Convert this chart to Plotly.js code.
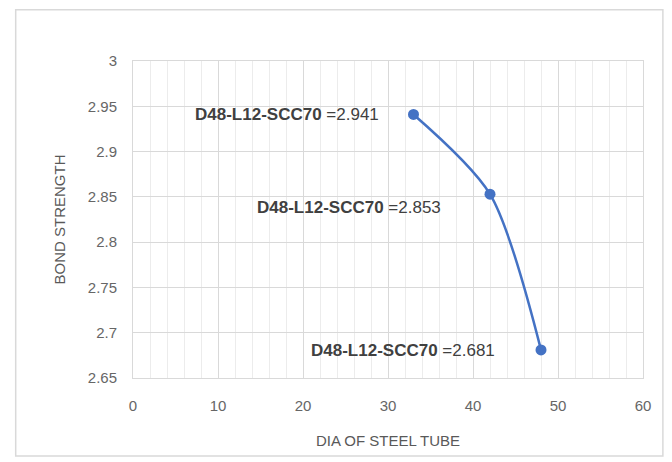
<!DOCTYPE html>
<html>
<head>
<script src="https://cdn.plot.ly/plotly-3.0.1.min.js"></script>
<style>html,body{margin:0;padding:0;background:#fff}#chart{width:672px;height:462px}</style>
</head>
<body>
<div id="chart"></div>
<script>
const diameters = [33, 42, 48];
const bondStrength = [2.941, 2.853, 2.681];
const pointLabels = ["D48-L12-SCC70", "D48-L12-SCC70", "D48-L12-SCC70"];
const xTicks = [0, 10, 20, 30, 40, 50, 60];
const yTicks = [2.65, 2.7, 2.75, 2.8, 2.85, 2.9, 2.95, 3];
const yTickText = ["2.65", "2.7", "2.75", "2.8", "2.85", "2.9", "2.95", "3"];

const FONT = "Liberation Sans, Arial, sans-serif";
const labelShifts = [[-33, 0], [-47, -13], [-44, -1]];

const trace = {
  x: diameters, y: bondStrength, type: 'scatter', mode: 'lines+markers',
  line: {color: '#4472C4', width: 2.5, shape: 'spline', smoothing: 0.8},
  marker: {color: '#4472C4', size: 11},
  hoverinfo: 'skip'
};

const annotations = diameters.map((xv, i) => ({
  x: xv, y: bondStrength[i], xref: 'x', yref: 'y',
  text: '<b>' + pointLabels[i] + '</b> =' + bondStrength[i].toFixed(3),
  showarrow: false, xanchor: 'right', yanchor: 'middle',
  xshift: labelShifts[i][0], yshift: labelShifts[i][1],
  font: {family: FONT, size: 17, color: '#404040'}
}));

const layout = {
  width: 672, height: 462,
  margin: {l: 133, r: 29, t: 61, b: 84},
  paper_bgcolor: '#ffffff', plot_bgcolor: '#ffffff',
  showlegend: false,
  font: {family: FONT, color: '#595959', size: 14},
  xaxis: {
    range: [0, 60], tickvals: xTicks, ticktext: xTicks.map(String),
    showgrid: true, gridcolor: '#d9d9d9', gridwidth: 1,
    minor: {dtick: 2, showgrid: true, gridcolor: '#ececec', gridwidth: 1},
    showline: true, mirror: true, linecolor: '#d9d9d9', linewidth: 1,
    zeroline: false, ticks: 'outside', ticklen: 14, tickcolor: 'rgba(0,0,0,0)',
    tickfont: {family: FONT, size: 15, color: '#666666'},
    title: {text: 'DIA OF STEEL TUBE', font: {family: FONT, size: 15, color: '#595959'}, standoff: 22}
  },
  yaxis: {
    range: [2.65, 3], tickvals: yTicks, ticktext: yTickText,
    showgrid: true, gridcolor: '#d9d9d9', gridwidth: 1,
    showline: true, mirror: true, linecolor: '#d9d9d9', linewidth: 1,
    zeroline: false, ticks: 'outside', ticklen: 12, tickcolor: 'rgba(0,0,0,0)',
    tickfont: {family: FONT, size: 15, color: '#666666'},
    title: {text: 'BOND STRENGTH', font: {family: FONT, size: 15, color: '#595959'}, standoff: 18}
  },
  annotations: annotations,
  shapes: [{
    type: 'rect', xref: 'paper', yref: 'paper',
    x0: -0.23, x1: 1.039, y0: -0.246, y1: 1.162,
    line: {color: '#d9d9d9', width: 1.5}, fillcolor: 'rgba(0,0,0,0)', layer: 'below'
  }]
};

Plotly.newPlot('chart', [trace], layout, {displayModeBar: false, staticPlot: true});
</script>
</body>
</html>
